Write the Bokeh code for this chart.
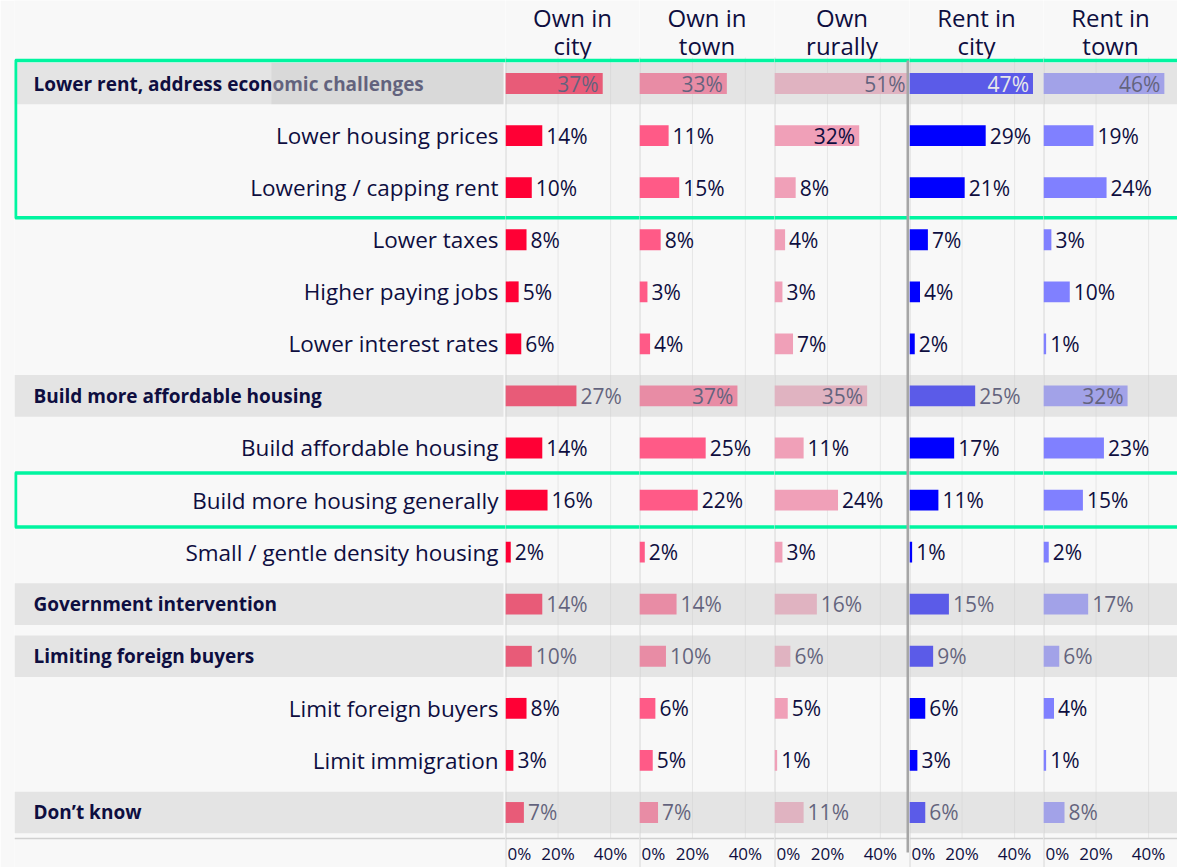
from bokeh.plotting import figure
from bokeh.layouts import row
from bokeh.models import ColumnDataSource, Range1d
from bokeh.embed import file_html
from bokeh.resources import INLINE
from bokeh.core.properties import value

# ---------------- data ----------------
rows = [
    "Lower rent, address economic challenges",
    "Lower housing prices",
    "Lowering / capping rent",
    "Lower taxes",
    "Higher paying jobs",
    "Lower interest rates",
    "Build more affordable housing",
    "Build affordable housing",
    "Build more housing generally",
    "Small / gentle density housing",
    "Government intervention",
    "Limiting foreign buyers",
    "Limit foreign buyers",
    "Limit immigration",
    "Don\u2019t know",
]
is_category = [True, False, False, False, False, False, True, False, False, False,
               True, True, False, False, True]
groups = ["Own in city", "Own in town", "Own rurally", "Rent in city", "Rent in town"]
header_top = ["Own in", "Own in", "Own", "Rent in", "Rent in"]
header_bottom = ["city", "town", "rurally", "city", "town"]
own_city = [37, 14, 10, 8, 5, 6, 27, 14, 16, 2, 14, 10, 8, 3, 7]
own_town = [33, 11, 15, 8, 3, 4, 37, 25, 22, 2, 14, 10, 6, 5, 7]
own_rural = [51, 32, 8, 4, 3, 7, 35, 11, 24, 3, 16, 6, 5, 1, 11]
rent_city = [47, 29, 21, 7, 4, 2, 25, 17, 11, 1, 15, 9, 6, 3, 6]
rent_town = [46, 19, 24, 3, 10, 1, 32, 23, 15, 2, 17, 6, 4, 1, 8]
tick_values = [0, 20, 40]
tick_labels = ["0%", "20%", "40%"]
highlights = [("Lower rent, address economic challenges", "Lowering / capping rent"),
              ("Build more housing generally", "Build more housing generally")]

series = [own_city, own_town, own_rural, rent_city, rent_town]

# ---------------- style ----------------
BG = "#f8f8f8"
NAVY = "#0e0e40"
BAR_COLORS = ["#ff0035", "#ff5a87", "#f0a0b8", "#0000ff", "#8080ff"]
INSIDE_TEXT = [NAVY, NAVY, NAVY, "#ffffff", NAVY]
OVERLAY = "#cccccc"
OVERLAY_ALPHA = 0.447
BAND = "#e4e4e4"
GREEN = "#00f5a0"
GRID = "#e6e6e6"
EDGE = "#d6d6d6"
AXIS = "#d0d0d0"
SEP = "#a6a6a6"
FONT = "Open Sans"

TOP_PX = 57
ROW_PX = 52.07
BOTTOM_PX = 29
LABEL_W = 505
LABEL_LEFT = 14
PANEL_W = [134, 135, 135, 134, 134]
n = len(rows)
H = int(round(TOP_PX + n * ROW_PX + BOTTOM_PX))

y_bottom = n - 0.5 + BOTTOM_PX / ROW_PX
y_top = -0.5 - TOP_PX / ROW_PX
y_range = Range1d(start=y_bottom, end=y_top)
xmax = max(max(s) for s in series)

idx = list(range(n))
cat_idx = [i for i in idx if is_category[i]]
sub_idx = [i for i in idx if not is_category[i]]


def px_to_y(page_y):
    return -0.5 + (page_y - TOP_PX) / ROW_PX


hl_top = [rows.index(a) - 0.5 + 3 / ROW_PX for a, b in highlights]
hl_bottom = [rows.index(b) + 0.5 + 4 / ROW_PX for a, b in highlights]
hl_top[1] = rows.index(highlights[1][0]) - 0.5 - 1 / ROW_PX
hl_bottom[1] = rows.index(highlights[1][1]) + 0.5 + 1 / ROW_PX


def base_fig(width, x_range, min_left=0):
    p = figure(width=width, height=H, x_range=x_range, y_range=y_range,
               output_backend="svg", toolbar_location=None,
               min_border_left=min_left, min_border_right=0,
               min_border_top=0, min_border_bottom=0)
    p.axis.visible = False
    p.grid.visible = False
    p.outline_line_color = None
    p.background_fill_color = BG
    p.border_fill_color = BG
    return p


# ---------------- label column ----------------
lw = LABEL_W - LABEL_LEFT
lp = base_fig(LABEL_W, Range1d(0, lw), min_left=LABEL_LEFT)
lp.quad(left=0, right=lw - 2, top=[i - 0.4 for i in cat_idx],
        bottom=[i + 0.4 for i in cat_idx], fill_color=BAND, line_color=None)
lp.text(x=lw - 7, y=sub_idx, text=[rows[i] for i in sub_idx], text_align="right",
        text_baseline="middle", text_font=value(FONT), text_font_size=value("22.5px"),
        text_color=NAVY)
lp.text(x=19, y=cat_idx, text=[rows[i] for i in cat_idx], text_align="left",
        text_baseline="middle", text_font=value(FONT), text_font_size=value("19px"),
        text_font_style="bold", text_color=NAVY)
# translucent patch seen over the first category label
lp.quad(left=257, right=lw - 2, top=cat_idx[0] - 0.4, bottom=cat_idx[0] + 0.4,
        fill_color=OVERLAY, fill_alpha=OVERLAY_ALPHA, line_color=None)
lp.segment(x0=0, x1=lw, y0=n - 0.5, y1=n - 0.5, line_color=AXIS, line_width=1.5)
lp.quad(left=1, right=lw + 50, top=hl_top, bottom=hl_bottom, fill_color=None,
        line_color=GREEN, line_width=3.5)

figs = [lp]

# ---------------- panels ----------------
for g, vals in enumerate(series):
    p = base_fig(PANEL_W[g], Range1d(0, xmax))
    # gridlines and panel edge
    p.segment(x0=tick_values[1:], x1=tick_values[1:], y0=-0.5, y1=n - 0.5,
              line_color=GRID, line_width=1)
    p.segment(x0=0, x1=0, y0=-0.5, y1=y_bottom, line_color=EDGE, line_width=2)

    inside = [v >= 30 for v in vals]
    src = ColumnDataSource(dict(
        y=idx, v=vals,
        label=[f"{v}%" for v in vals],
        align=["right" if ins else "left" for ins in inside],
        off=[-4 if ins else 4 for ins in inside],
        tcol=[INSIDE_TEXT[g] if ins else NAVY for ins in inside],
    ))
    p.hbar(y="y", left=0, right="v", height=0.4, source=src,
           fill_color=BAR_COLORS[g], line_color=None)
    p.text(x="v", y="y", text="label", x_offset="off", text_align="align",
           text_baseline="middle", text_color="tcol", source=src,
           text_font=value(FONT), text_font_size=value("21px"))

    # shading of category rows (drawn over bars and labels)
    p.quad(left=-1, right=xmax + 1, top=[i - 0.4 for i in cat_idx],
           bottom=[i + 0.4 for i in cat_idx], fill_color=OVERLAY,
           fill_alpha=OVERLAY_ALPHA, line_color=None)

    # axis line and tick labels
    p.segment(x0=0, x1=xmax, y0=n - 0.5, y1=n - 0.5, line_color=AXIS, line_width=1.5)
    p.text(x=tick_values, y=px_to_y(TOP_PX + n * ROW_PX + 15), text=tick_labels,
           text_align=["left"] + ["center"] * (len(tick_values) - 1),
           x_offset=[2] + [0] * (len(tick_values) - 1),
           text_baseline="middle", text_font=value(FONT),
           text_font_size=value("17px"), text_color=NAVY)

    # headers
    p.text(x=xmax / 2, y=[px_to_y(17), px_to_y(45)],
           text=[header_top[g], header_bottom[g]], text_align="center",
           text_baseline="middle", text_font=value(FONT),
           text_font_size=value("24px"), text_color=NAVY)

    # highlight outlines
    p.quad(left=-5, right=xmax + 5, top=hl_top, bottom=hl_bottom, fill_color=None,
           line_color=GREEN, line_width=3.5)

    # own / rent separator
    if g == 2:
        p.segment(x0=xmax, x1=xmax, y0=px_to_y(60), y1=px_to_y(852),
                  line_color=SEP, line_width=6)
    figs.append(p)

layout = row(*figs)

open("out.html", "w").write(file_html(layout, INLINE))
